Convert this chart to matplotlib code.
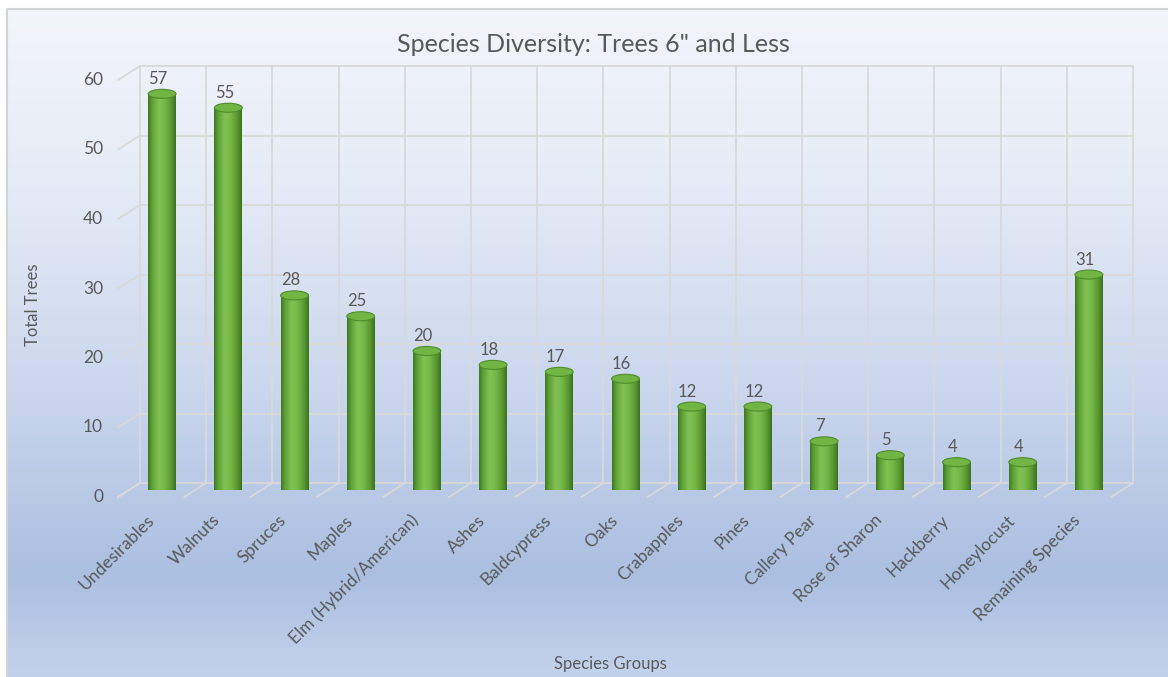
import numpy as np
import matplotlib
matplotlib.use("Agg")
import matplotlib.pyplot as plt
from matplotlib.patches import Ellipse, Rectangle
from matplotlib.colors import LinearSegmentedColormap
from matplotlib.transforms import offset_copy

# ---------------- data ----------------
categories = ["Undesirables", "Walnuts", "Spruces", "Maples", "Elm (Hybrid/American)",
              "Ashes", "Baldcypress", "Oaks", "Crabapples", "Pines", "Callery Pear",
              "Rose of Sharon", "Hackberry", "Honeylocust", "Remaining Species"]
values = [57, 55, 28, 25, 20, 18, 17, 16, 12, 12, 7, 5, 4, 4, 31]
y_ticks = [0, 10, 20, 30, 40, 50, 60]
title = 'Species Diversity: Trees 6" and Less'
x_label = "Species Groups"
y_label = "Total Trees"

plt.rcParams["font.family"] = ["Lato", "DejaVu Sans"]
TXT = "#595959"
GRID = "#D9D9D9"

W, H = 1168, 677
fig = plt.figure(figsize=(W / 100, H / 100), dpi=100)
fig.patch.set_facecolor("white")

# ---------------- background ----------------
bg = fig.add_axes([0, 0, 1, 1], zorder=0)
bg.set_xlim(0, W)
bg.set_ylim(H, 0)
bg.axis("off")
stops = [(0.0, "#F3F5FA"), (0.25, "#E6ECF6"), (0.55, "#CCD8EE"), (0.85, "#ABBFE1"), (1.0, "#C3D2EC")]
cmap_bg = LinearSegmentedColormap.from_list("bg", stops)
grad = np.linspace(0, 1, 256).reshape(-1, 1)
bg.imshow(grad, cmap=cmap_bg, extent=[6, W, H, 8], aspect="auto", interpolation="bicubic")
bg.add_patch(Rectangle((6.5, 8.5), W, H, fill=False, edgecolor="#D4D4D4", lw=1.5))

# ---------------- main plot plane (cylinder depth) ----------------
ax = fig.add_axes([129 / W, 187 / H, 993 / W, 417 / H], zorder=1)
ax.patch.set_alpha(0)
ax.axis("off")
n = len(categories)
ymax = y_ticks[-1]

back = offset_copy(ax.transData, fig=fig, x=11, y=7, units="dots")
front = offset_copy(ax.transData, fig=fig, x=-11, y=-7, units="dots")

# back wall grid
for t in y_ticks:
    ax.plot([-0.5, n - 0.5], [t, t], transform=back, color=GRID, lw=1.3, clip_on=False, zorder=1)
for k in range(n + 1):
    ax.plot([k - 0.5, k - 0.5], [0, ymax], transform=back, color=GRID, lw=1.3, clip_on=False, zorder=1)
# left wall diagonals
for t in y_ticks:
    ax.annotate("", xy=(-0.5, t), xycoords=back, xytext=(-0.5, t), textcoords=front,
                arrowprops=dict(arrowstyle="-", color=GRID, lw=1.3, shrinkA=0, shrinkB=0))
# floor diagonals
for k in range(n + 1):
    ax.annotate("", xy=(k - 0.5, 0), xycoords=back, xytext=(k - 0.5, 0), textcoords=front,
                arrowprops=dict(arrowstyle="-", color=GRID, lw=1.3, shrinkA=0, shrinkB=0))

# y tick labels
tick_tr = offset_copy(ax.transData, fig=fig, x=-26, y=-7, units="dots")
for t in y_ticks:
    ax.text(-0.5, t, str(t), transform=tick_tr, ha="right", va="center", fontsize=12.5, color=TXT)

# category labels
cat_tr = offset_copy(ax.transData, fig=fig, x=-5, y=-22, units="dots")
for i, c in enumerate(categories):
    ax.text(i, 0, c, transform=cat_tr, rotation=45, ha="right", va="top", fontsize=12.5, color=TXT)

# cylinders
cyl = LinearSegmentedColormap.from_list("cyl", [(0.0, "#3E7820"), (0.12, "#5C9C35"), (0.38, "#80C253"),
                                                (0.6, "#76B849"), (0.85, "#58962F"), (1.0, "#3A721D")])
w = 0.42
eh = 1.3
row = np.linspace(0, 1, 64).reshape(1, -1)
lab_tr = offset_copy(ax.transData, fig=fig, x=-4, y=10, units="dots")
for i, v in enumerate(values):
    body = ax.imshow(row, cmap=cyl, extent=[i - w / 2, i + w / 2, -eh / 2, v], aspect="auto",
                     interpolation="bicubic", zorder=3)
    body.set_clip_path(Rectangle((i - w / 2, 0), w, v, transform=ax.transData))
    bot = ax.imshow(row, cmap=cyl, extent=[i - w / 2, i + w / 2, -eh / 2, v], aspect="auto",
                    interpolation="bicubic", zorder=3)
    bot.set_clip_path(Ellipse((i, 0), w, eh, transform=ax.transData))
    ax.add_patch(Ellipse((i, v), w, eh, facecolor="#72B545", edgecolor="#4F8C2B", lw=0.8, zorder=4))
    ax.text(i, v, str(v), transform=lab_tr, ha="center", va="baseline", fontsize=12, color=TXT, zorder=5)

ax.set_xlim(-0.5, n - 0.5)
ax.set_ylim(0, ymax)

# titles
fig.text(593 / W, 1 - 45 / H, title, ha="center", va="center", fontsize=18, color=TXT)
fig.text(610 / W, 1 - 664 / H, x_label, ha="center", va="center", fontsize=12, color=TXT)
fig.text(33 / W, 1 - 305 / H, y_label, ha="center", va="center", rotation=90, fontsize=12, color=TXT)

fig.savefig("out.png", dpi=100)
